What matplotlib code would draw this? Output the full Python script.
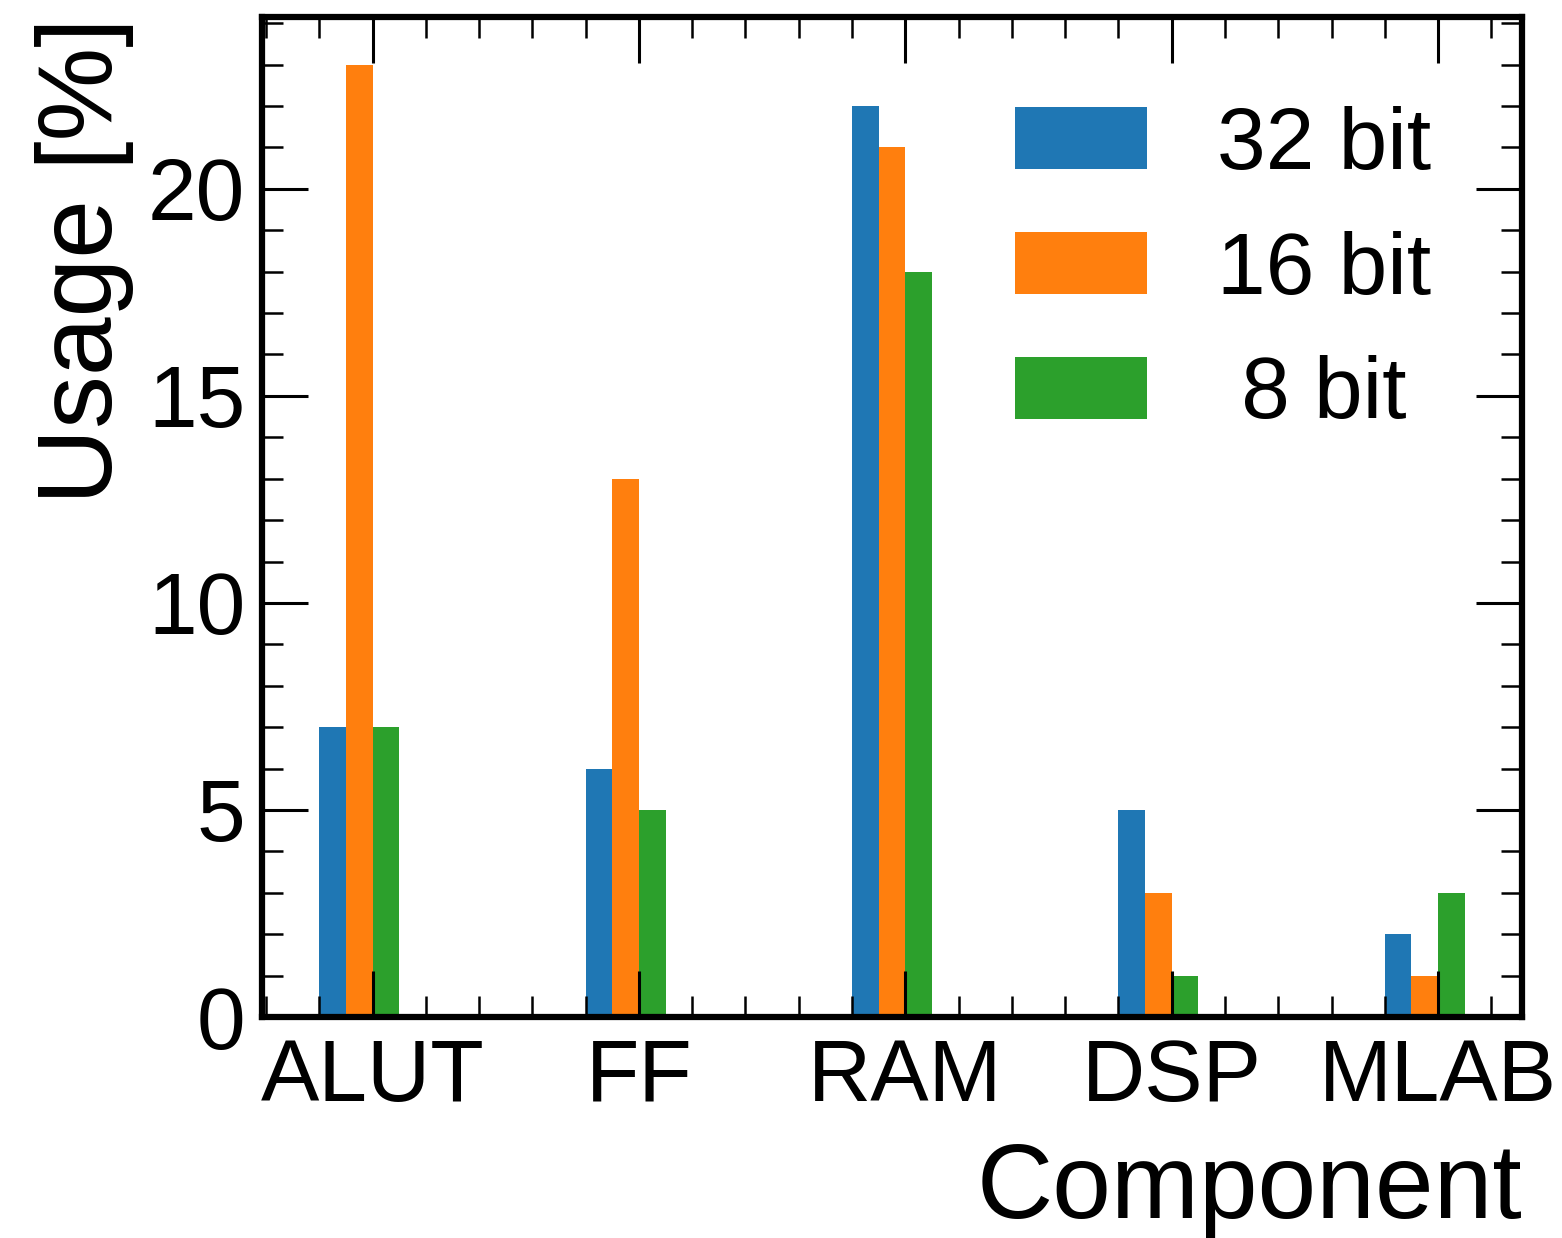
import numpy as np
import matplotlib
matplotlib.use("Agg")
import matplotlib.pyplot as plt
from matplotlib.ticker import MultipleLocator

plt.rcParams["font.family"] = ["Liberation Sans", "DejaVu Sans"]

components = ["ALUT", "FF", "RAM", "DSP", "MLAB"]
labels = ["32 bit", "16 bit", " 8 bit"]
usage_32 = [7, 6, 22, 5, 2]
usage_16 = [23, 13, 21, 3, 1]
usage_8 = [7, 5, 18, 1, 3]

fig = plt.figure(figsize=(15.62, 12.38), dpi=100)
ax = fig.add_axes([0.1677, 0.1785, 0.8067, 0.8078])

x = np.arange(len(components))
width = 0.1
for i, (vals, lab) in enumerate(zip([usage_32, usage_16, usage_8], labels)):
	ax.bar(x + (i - 1) * width, vals, width, label=lab, color=f"C{i}")

# ticks sit on the boundary between the 16 bit and 8 bit bars
ax.set_xticks(x + width / 2)
ax.set_xticklabels(components)
ax.xaxis.set_minor_locator(MultipleLocator(0.2, offset=0.05))
ax.yaxis.set_major_locator(MultipleLocator(5))
ax.yaxis.set_minor_locator(MultipleLocator(1))

ax.tick_params(which="both", direction="in", top=True, right=True, labelsize=63)
ax.tick_params(axis="x", which="both", pad=15)
ax.tick_params(axis="y", which="both", pad=12)
ax.tick_params(which="major", length=33, width=2.2)
ax.tick_params(which="minor", length=15, width=1.8)
for s in ax.spines.values():
	s.set_linewidth(4.5)

ax.set_ylabel("Usage [%]", fontsize=76, loc="top", labelpad=10)
ax.set_xlabel("Component", fontsize=76, loc="right", labelpad=16)

ax.legend(loc="upper right", bbox_to_anchor=(0.956, 0.946), borderaxespad=0,
	frameon=False, fontsize=63, handlelength=1.51, handleheight=0.71,
	handletextpad=0.8, labelspacing=0.5)

fig.savefig("out.png", dpi=100)
